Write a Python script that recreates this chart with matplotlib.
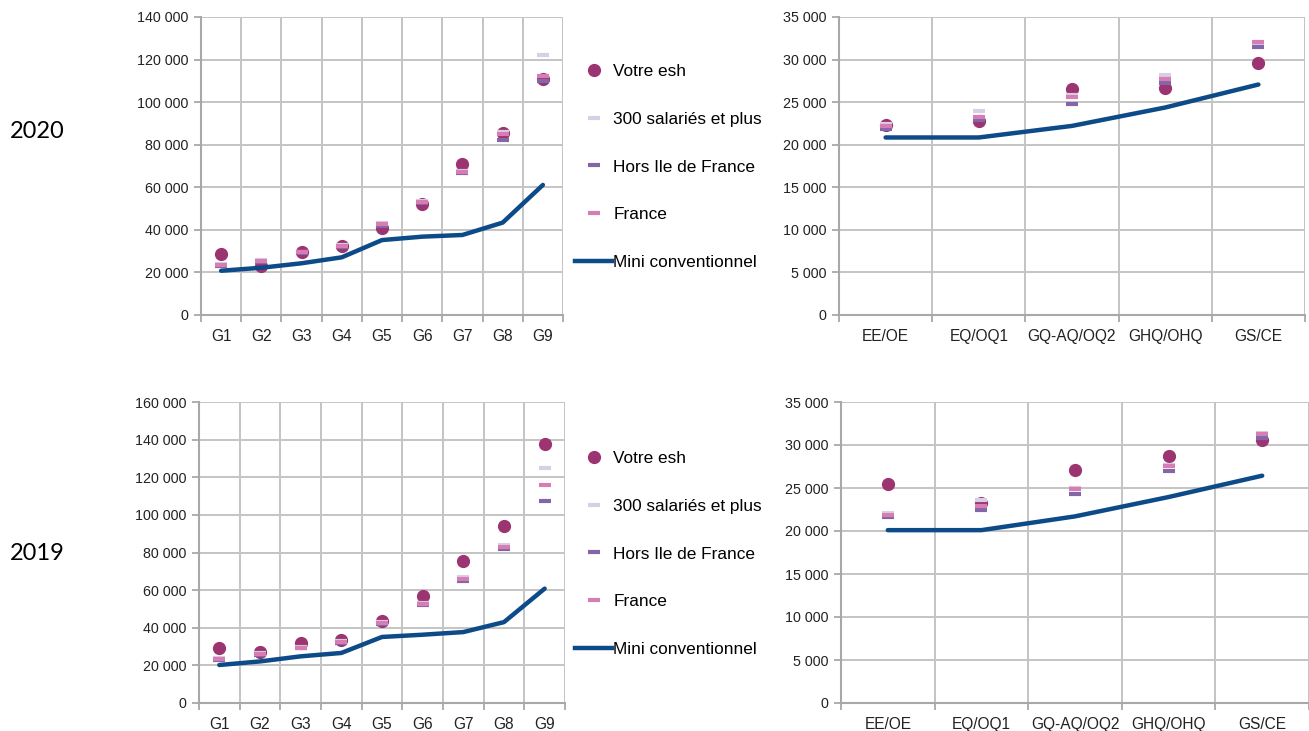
import matplotlib
matplotlib.use("Agg")
import matplotlib.pyplot as plt
from matplotlib.lines import Line2D
from matplotlib.ticker import FuncFormatter, FixedLocator

# ---------------- data ----------------
grades = ["G1", "G2", "G3", "G4", "G5", "G6", "G7", "G8", "G9"]
levels = ["EE/OE", "EQ/OQ1", "GQ-AQ/OQ2", "GHQ/OHQ", "GS/CE"]
series_labels = ["Votre esh", "300 salariés et plus", "Hors Ile de France", "France", "Mini conventionnel"]
years = ["2020", "2019"]

esh_2020 = [28500, 23200, 29400, 32400, 40900, 52100, 70800, 85300, 110900]
sal300_2020 = [23800, 25900, 29700, 32800, 43000, 53500, 67800, 86000, 122000]
hors_2020 = [23200, 25000, 29000, 32000, 42000, 52600, 66800, 82200, 110000]
france_2020 = [23500, 25500, 29400, 32500, 42600, 53100, 67300, 84800, 112300]
mini_2020 = [20800, 22200, 24300, 27100, 35200, 36800, 37600, 43400, 61100]

esh_2019 = [29500, 27100, 31800, 33600, 43400, 57000, 75600, 94300, 137800]
sal300_2019 = [23800, 26500, 29800, 32900, 43000, 53000, 67000, 84100, 125100]
france_2019 = [23400, 26000, 29400, 32400, 42500, 52500, 66100, 82900, 115700]
hors_2019 = [23000, 25600, 29000, 32000, 42000, 52000, 65000, 81900, 107200]
mini_2019 = [20200, 22100, 24800, 26600, 35100, 36300, 37700, 43000, 60800]

esh_r2020 = [22300, 22760, 26520, 26630, 29650]
sal300_r2020 = [22400, 23940, 25880, 28160, 32000]
france_r2020 = [22200, 23270, 25600, 27770, 32060]
hors_r2020 = [21900, 22950, 24820, 27300, 31480]
mini_r2020 = [20850, 20850, 22210, 24370, 27070]

esh_r2019 = [25520, 23250, 27050, 28670, 30540]
sal300_r2019 = [22090, 23560, 25000, 27670, 31390]
france_r2019 = [21890, 22860, 24920, 27590, 31280]
hors_r2019 = [21580, 22400, 24340, 27010, 30770]
mini_r2019 = [20100, 20100, 21700, 23950, 26430]

# ---------------- style ----------------
C_ESH = "#9c3471"
C_300 = "#d8cfe6"
C_HORS = "#8466a8"
C_FR = "#d77db3"
C_MINI = "#0d4a88"
C_GRID = "#c4c4c4"
C_AXIS = "#a8a8a8"
FONT = "Liberation Sans"

plt.rcParams["font.family"] = [FONT, "DejaVu Sans"]

W, H = 1309, 731
fig = plt.figure(figsize=(W / 100, H / 100), dpi=100)


def px_axes(x0, y0, x1, y1):
    return fig.add_axes([x0 / W, 1 - y1 / H, (x1 - x0) / W, (y1 - y0) / H])


def thousands(v, pos):
    return f"{int(v):,}".replace(",", " ")


def draw_chart(ax, cats, esh, s300, hors, fr, mini, ymax, ystep):
    n = len(cats)
    xs = list(range(1, n + 1))
    ax.set_xlim(0.5, n + 0.5)
    ax.set_ylim(0, ymax)
    ax.yaxis.set_major_locator(FixedLocator(list(range(0, ymax + 1, ystep))))
    ax.yaxis.set_major_formatter(FuncFormatter(thousands))
    ax.set_xticks(xs)
    ax.set_xticklabels(cats)
    ax.xaxis.set_minor_locator(FixedLocator([i + 0.5 for i in range(0, n + 1)]))
    ax.tick_params(axis="x", which="major", length=0, pad=10, labelsize=11.2, colors="#222222")
    ax.tick_params(axis="x", which="minor", length=5, width=1.3, color=C_AXIS)
    ax.tick_params(axis="y", which="major", length=5, width=1.3, color=C_AXIS, pad=4,
                   labelsize=10.3, labelcolor="#222222")
    ax.grid(True, axis="y", which="major", color=C_GRID, linewidth=1.4)
    ax.grid(True, axis="x", which="minor", color=C_GRID, linewidth=1.4)
    ax.set_axisbelow(True)
    for s in ["top", "right"]:
        ax.spines[s].set_visible(False)
    for s in ["left", "bottom"]:
        ax.spines[s].set_color(C_AXIS)
        ax.spines[s].set_linewidth(1.5)

    ax.plot(xs, esh, linestyle="none", marker="o", markersize=8.5, color=C_ESH, zorder=3)
    ax.plot(xs, s300, linestyle="none", marker="_", markersize=9, markeredgewidth=3, color=C_300, zorder=4)
    ax.plot(xs, hors, linestyle="none", marker="_", markersize=9, markeredgewidth=3, color=C_HORS, zorder=4)
    ax.plot(xs, fr, linestyle="none", marker="_", markersize=9, markeredgewidth=3, color=C_FR, zorder=4)
    ax.plot(xs, mini, color=C_MINI, linewidth=3.2, solid_capstyle="round",
            solid_joinstyle="round", zorder=5)


ax1 = px_axes(201, 17, 563, 315)
draw_chart(ax1, grades, esh_2020, sal300_2020, hors_2020, france_2020, mini_2020, 140000, 20000)
ax2 = px_axes(839, 17, 1305, 315)
draw_chart(ax2, levels, esh_r2020, sal300_r2020, hors_r2020, france_r2020, mini_r2020, 35000, 5000)
ax3 = px_axes(199, 402, 565, 703)
draw_chart(ax3, grades, esh_2019, sal300_2019, hors_2019, france_2019, mini_2019, 160000, 20000)
ax4 = px_axes(841, 402, 1309, 703)
draw_chart(ax4, levels, esh_r2019, sal300_r2019, hors_r2019, france_r2019, mini_r2019, 35000, 5000)

# legends
handles = [
    Line2D([], [], linestyle="none", marker="o", markersize=8.5, color=C_ESH),
    Line2D([], [], linestyle="none", marker="_", markersize=9, markeredgewidth=3, color=C_300),
    Line2D([], [], linestyle="none", marker="_", markersize=9, markeredgewidth=3, color=C_HORS),
    Line2D([], [], linestyle="none", marker="_", markersize=9, markeredgewidth=3, color=C_FR),
    Line2D([], [], color=C_MINI, linewidth=3.2),
]
for yc in [167 / H, 554 / H]:
    fig.legend(handles, series_labels, loc="center left", bbox_to_anchor=(575 / W, 1 - yc),
               frameon=False, fontsize=12.4, handlelength=2.15, handletextpad=0.08,
               labelspacing=1.9, borderpad=0, borderaxespad=0)

# year labels
fig.text(37 / W, 1 - 131 / H, years[0], ha="center", va="center", fontsize=17, family=["Lato", "DejaVu Sans"])
fig.text(37 / W, 1 - 553 / H, years[1], ha="center", va="center", fontsize=17, family=["Lato", "DejaVu Sans"])

fig.savefig("out.png", dpi=100)
